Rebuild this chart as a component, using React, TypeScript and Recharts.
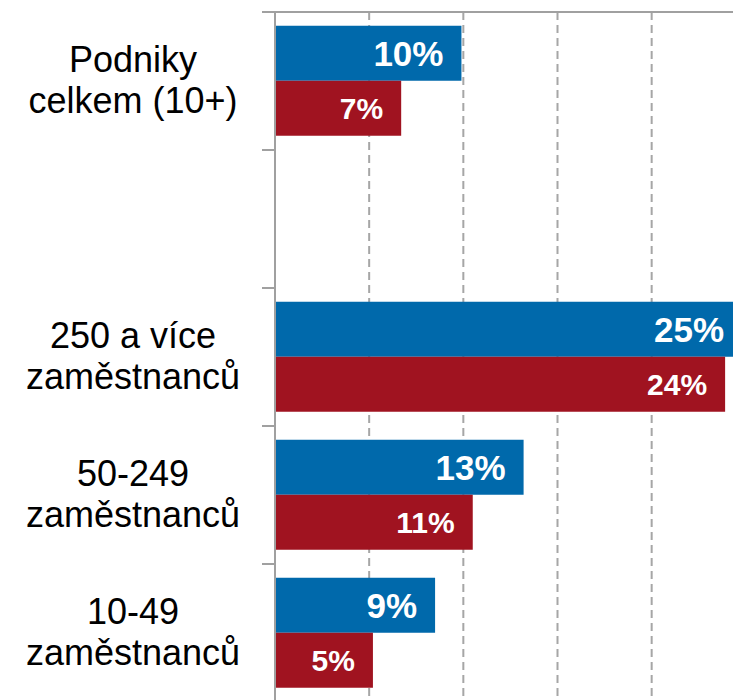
import { BarChart, Bar, XAxis, YAxis, CartesianGrid, LabelList } from "recharts";

const categories = [
  "Podniky\ncelkem (10+)",
  "",
  "250 a více\nzaměstnanců",
  "50-249\nzaměstnanců",
  "10-49\nzaměstnanců",
];
const blueValues = [9.9, null, 24.8, 13.2, 8.5];
const redValues = [6.7, null, 23.9, 10.5, 5.2];
const xTicks = [0, 5, 10, 15, 20, 25, 30];

const data = categories.map((name, i) => ({
  name,
  blue: blueValues[i],
  red: redValues[i],
}));

const FONT = '"Liberation Sans", Arial, sans-serif';
const AXIS_GRAY = "#a0a0a0";

function CategoryTick(props: any) {
  const { x, y, payload, index } = props;
  const half = payload.offset || 0;
  const lines = String(payload.value).split("\n").filter((s) => s.length);
  const isLast = index === categories.length - 1;
  return (
    <g>
      <line x1={x} x2={x + 13} y1={y - half} y2={y - half} stroke={AXIS_GRAY} strokeWidth={2} />
      {isLast && (
        <line x1={x} x2={x + 13} y1={y + half} y2={y + half} stroke={AXIS_GRAY} strokeWidth={2} />
      )}
      {lines.length > 0 && (
        <text textAnchor="middle" fontFamily={FONT} fontSize={36} fill="#000">
          {lines.map((line, i) => (
            <tspan key={i} x={x - 129} y={y + (lines.length === 1 ? 12 : i === 0 ? -9 : 32)}>
              {line}
            </tspan>
          ))}
        </text>
      )}
    </g>
  );
}

function makeLabel(fontSize: number) {
  return (props: any) => {
    const { x, y, width, height, value } = props;
    if (value == null) return null;
    return (
      <text
        x={x + width - 18}
        y={y + height / 2}
        textAnchor="end"
        dominantBaseline="central"
        fill="#ffffff"
        fontFamily={FONT}
        fontWeight="bold"
        fontSize={fontSize}
      >
        {Math.round(value)}%
      </text>
    );
  };
}

export default function App() {
  return (
    <div
      style={{
        position: "absolute",
        left: 0,
        top: 0,
        width: 733,
        height: 700,
        overflow: "hidden",
        background: "#fff",
      }}
    >
      <BarChart
        width={840}
        height={702}
        data={data}
        layout="vertical"
        margin={{ top: 11, right: 0, bottom: 0, left: 0 }}
        barCategoryGap="10%"
        barGap={0}
      >
        <CartesianGrid
          horizontal={false}
          stroke="#a6a6a6"
          strokeWidth={2}
          strokeDasharray="8 5"
        />
        <XAxis
          type="number"
          orientation="top"
          domain={[0, 30]}
          ticks={xTicks}
          height={1}
          tickLine={false}
          tickFormatter={() => ""}
          axisLine={{ stroke: AXIS_GRAY, strokeWidth: 2 }}
        />
        <YAxis
          type="category"
          dataKey="name"
          width={275}
          tickSize={13}
          tickMargin={0}
          tickLine={false}
          axisLine={{ stroke: AXIS_GRAY, strokeWidth: 2 }}
          tick={<CategoryTick />}
          interval={0}
        />
        <Bar dataKey="blue" fill="#0069ab" isAnimationActive={false}>
          <LabelList dataKey="blue" content={makeLabel(35)} />
        </Bar>
        <Bar dataKey="red" fill="#a01320" isAnimationActive={false}>
          <LabelList dataKey="red" content={makeLabel(30)} />
        </Bar>
      </BarChart>
    </div>
  );
}
